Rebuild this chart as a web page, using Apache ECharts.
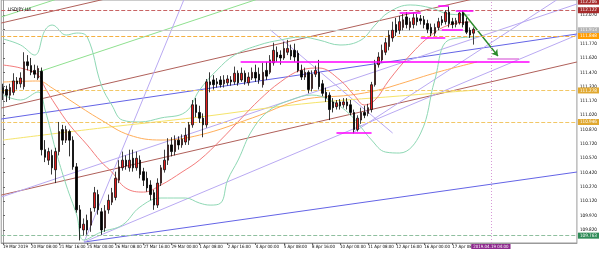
<!DOCTYPE html>
<html><head><meta charset="utf-8">
<script src="https://cdn.jsdelivr.net/npm/echarts@6/dist/echarts.min.js"></script>
<style>html,body{margin:0;padding:0;background:#fff}#c{width:600px;height:253px}</style>
</head><body><div id="c"></div>
<script>
// ---- data ----
const title = 'USDJPY,H4';
// [open, close, low, high]
const candles = [
[111.31,111.25,111.18,111.35],[111.29,111.23,111.16,111.33],[111.23,111.31,111.18,111.35],[111.26,111.38,111.23,111.46],
[111.38,111.35,111.29,111.42],[111.35,111.41,111.31,111.47],[111.32,111.58,111.29,111.68],[111.58,111.54,111.49,111.65],
[111.54,111.47,111.44,111.62],[111.49,111.45,111.41,111.55],[111.41,111.51,111.39,111.54],[111.48,110.66,110.60,111.52],
[110.66,110.58,110.53,110.76],[110.55,110.64,110.50,110.68],[110.60,110.47,110.40,110.66],[110.45,110.64,110.31,110.68],
[110.64,110.85,110.60,110.95],[110.87,110.76,110.71,110.92],[110.76,110.87,110.73,110.91],[110.85,110.76,110.59,110.87],
[110.76,110.48,110.45,110.80],[110.48,110.03,110.00,110.52],[110.03,109.84,109.71,110.08],[109.82,109.88,109.76,109.94],
[109.92,109.82,109.77,109.98],[109.87,110.01,109.80,110.05],[110.05,110.21,110.01,110.27],[110.19,110.03,109.98,110.24],
[110.01,109.82,109.77,110.05],[109.84,110.02,109.80,110.08],[110.03,110.13,109.99,110.19],[110.11,110.21,110.08,110.26],
[110.16,110.36,110.13,110.43],[110.34,110.48,110.31,110.55],[110.47,110.55,110.44,110.64],[110.55,110.49,110.45,110.60],
[110.47,110.55,110.43,110.66],[110.57,110.47,110.43,110.66],[110.47,110.57,110.44,110.64],[110.55,110.40,110.36,110.60],
[110.43,110.34,110.28,110.47],[110.36,110.26,110.22,110.43],[110.29,110.19,110.13,110.34],[110.21,110.08,110.03,110.24],
[110.08,110.31,110.05,110.36],[110.31,110.47,110.28,110.50],[110.45,110.55,110.42,110.66],[110.55,110.71,110.50,110.78],
[110.71,110.64,110.59,110.79],[110.64,110.76,110.60,110.81],[110.76,110.71,110.66,110.80],[110.71,110.77,110.68,110.82],
[110.74,110.81,110.71,110.89],[110.76,110.92,110.71,110.95],[110.92,111.13,110.89,111.18],[111.13,111.05,111.00,111.20],
[111.05,110.99,110.94,111.12],[110.99,110.92,110.79,111.04],[110.92,111.37,110.89,111.40],[111.37,111.34,111.26,111.47],
[111.39,111.34,111.29,111.44],[111.37,111.35,111.31,111.41],[111.39,111.34,111.31,111.43],[111.35,111.39,111.31,111.44],
[111.36,111.40,111.33,111.44],[111.39,111.37,111.33,111.43],[111.37,111.46,111.34,111.53],[111.46,111.36,111.33,111.49],
[111.39,111.46,111.37,111.52],[111.46,111.37,111.34,111.49],[111.36,111.42,111.33,111.47],[111.41,111.47,111.39,111.52],
[111.47,111.41,111.37,111.55],[111.45,111.39,111.35,111.52],[111.34,111.47,111.31,111.57],[111.49,111.43,111.39,111.58],
[111.47,111.60,111.45,111.65],[111.57,111.70,111.54,111.78],[111.68,111.63,111.58,111.74],[111.65,111.62,111.55,111.70],
[111.62,111.72,111.60,111.79],[111.68,111.72,111.65,111.81],[111.70,111.64,111.60,111.76],[111.70,111.63,111.58,111.77],
[111.67,111.49,111.47,111.70],[111.49,111.42,111.39,111.55],[111.42,111.47,111.39,111.52],[111.47,111.29,111.25,111.49],
[111.30,111.45,111.27,111.49],[111.45,111.49,111.42,111.54],[111.47,111.32,111.29,111.60],[111.35,111.25,111.22,111.39],
[111.26,111.20,111.16,111.31],[111.23,111.08,110.97,111.26],[111.16,111.10,111.05,111.20],[111.11,111.15,111.08,111.18],
[111.16,111.12,111.08,111.19],[111.13,111.16,111.10,111.20],[111.16,111.12,111.08,111.20],[111.13,111.05,111.02,111.18],
[111.05,110.87,110.83,111.08],[110.87,110.99,110.85,111.02],[110.97,111.05,110.93,111.10],[111.05,111.02,110.99,111.12],
[111.04,111.10,111.01,111.14],[111.08,111.34,111.05,111.37],[111.34,111.55,111.32,111.60],[111.55,111.63,111.52,111.68],
[111.60,111.70,111.57,111.76],[111.68,111.78,111.65,111.83],[111.74,111.86,111.70,111.91],[111.83,111.91,111.79,112.00],
[111.97,111.89,111.85,112.04],[111.91,112.00,111.87,112.06],[111.94,112.02,111.91,112.08],[112.05,111.97,111.93,112.10],
[111.94,112.00,111.91,112.04],[111.97,112.04,111.93,112.09],[112.04,112.00,111.96,112.08],[112.03,112.01,111.97,112.07],
[112.02,111.97,111.93,112.06],[111.98,111.92,111.88,112.02],[111.94,111.88,111.85,111.98],[111.88,111.94,111.85,111.98],
[111.94,112.00,111.91,112.04],[112.02,111.99,111.96,112.06],[112.00,112.10,111.97,112.12],[112.10,111.98,111.94,112.16],
[112.00,111.97,111.93,112.04],[111.97,112.01,111.94,112.04],[111.99,112.09,111.97,112.10],[112.09,111.97,111.94,112.12],
[112.00,111.89,111.87,112.04],[111.91,111.86,111.83,111.94],[111.88,111.92,111.76,111.94]
];
// indicator curves: [bar index, price]
const maRed = [[0,111.546],[5,111.515],[10,111.442],[12,111.306],[15,111.128],[19,110.918],[24,110.709],[28,110.531],[31,110.426],[35,110.258],[40,110.216],[45,110.290],[51,110.426],[56,110.552],[62,110.761],[68,110.992],[73,111.18],[79,111.368],[85,111.494],[90,111.515],[96,111.389],[100,111.232],[103,111.128],[106,111.18],[110,111.389],[116,111.651],[122,111.86],[127,111.965],[133,111.997]];
const maOrange = [[0,111.368],[10,111.379],[14,111.306],[19,111.18],[28,110.97],[36,110.813],[45,110.761],[56,110.813],[71,110.992],[85,111.18],[99,111.232],[107,111.285],[113,111.348],[124,111.473],[135,111.578]];
const maYellow = [[0,110.761],[28,110.887],[56,111.002],[85,111.138],[113,111.222],[135,111.285]];
const bbUpper = [[0,111.819],[5,111.756],[9,111.651],[12,111.913],[14,111.965],[18,111.86],[21,111.881],[24,111.84],[28,111.337],[31,111.128],[34,110.97],[39,110.95],[45,110.992],[52,111.054],[56,111.285],[61,111.494],[66,111.651],[73,111.756],[79,111.808],[85,111.84],[90,111.808],[96,111.756],[102,111.808],[106,111.965],[110,112.101],[116,112.175],[122,112.143],[127,112.08],[133,112.07]];
const bbLower = [[0,111.232],[5,111.18],[10,111.264],[12,111.075],[15,110.656],[18,110.29],[21,109.976],[23,109.714],[28,109.798],[34,109.871],[39,110.059],[45,110.154],[52,110.154],[56,110.101],[59,110.08],[62,110.101],[64,110.342],[67,110.552],[71,110.866],[76,111.075],[82,111.18],[88,111.232],[93,111.18],[99,111.023],[105,110.761],[109,110.635],[113,110.625],[119,110.834],[123,111.389],[127,111.808],[135,111.84]];
// trend lines: two anchor points [bar index, price]
const brownLines = [[[-0.5,111.986],[163.5,113.38]],[[-0.5,111.096],[163.5,112.489]],[[-0.5,110.185],[163.5,111.578]]];
const greenLines = [[[-0.5,112.049],[163.5,113.99]],[[10,111.473],[163.5,113.347]]];
const blueLines = [[[-0.5,110.981],[163.5,111.871]],[[23.1,109.693],[163.5,110.426]]];
const lavenderLines = [[[23.1,109.693],[163.5,111.86]],[[23.1,109.693],[51.5,112.227]],[[-0.5,110.164],[163.5,112.185]],[[76.2,111.913],[111,110.834]],[[100,110.845],[157.7,112.227]]];
const magentaSegs = [[[67.7,111.578],[150,111.578]],[[95,110.834],[105,110.834]],[[113,112.091],[119,112.091]],[[124,112.164],[127,112.164]],[[129,112.112],[134,112.112]],[[125,111.913],[131,111.913]],[[119,111.829],[126,111.829]]];
const targetSeg = [[138,111.609],[147,111.609]];
const arrow = [[131,112.101],[141,111.641]];
// horizontal levels
const levels = [
  {v:112.206, line:null, box:'#a52a2a'},
  {v:112.122, line:'#c86464', type:'dashed', box:'#a52a2a'},
  {v:111.913, line:'#c8c8c8', type:'solid', box:'#b4b4b4'},
  {v:111.848, line:'#f5b041', type:'dashed', box:'#ff9c00'},
  {v:111.278, line:'#f2c766', type:'dashed', box:'#e0a830'},
  {v:110.946, line:'#f2c766', type:'dashed', box:'#e0a830'},
  {v:109.763, line:'#8fbf9f', type:'dashed', box:'#2e8b57'}
];
const futureLine = {index:139, text:'2019.04.19 04:00'};
const priceTicks = [112.07,111.92,111.77,111.62,111.47,111.32,111.17,111.02,110.87,110.72,110.57,110.42,110.27,110.12,109.97,109.82];
const yMin = 109.683, yMax = 112.227;
const slots = 164;
const lastLabelled = 134;

// ---- categories: H4 bars, weekdays only ----
const mon = ['Jan','Feb','Mar','Apr','May'];
const categories = [];
let t = Date.UTC(2019,2,19,0);
while (categories.length < slots) {
  const d = new Date(t); const wd = d.getUTCDay();
  if (wd !== 0 && wd !== 6) categories.push(d.getUTCDate()+' '+mon[d.getUTCMonth()]+' '+String(d.getUTCHours()).padStart(2,'0')+':00');
  t += 4*3600e3;
}
categories[0] = '19 Mar 2019';
const showTick = (i) => i % 8 === 0 && i <= lastLabelled;

const FONT = '"Liberation Sans Narrow", "DejaVu Sans Condensed", "Liberation Sans", sans-serif';
const lineSeries = (data, color, w, extra) => Object.assign({type:'line', xAxisIndex:1, data, symbol:'none', silent:true, animation:false, lineStyle:{color, width:w}, z:3}, extra||{});
const series = [];
brownLines.forEach(l=>series.push(lineSeries(l,'#b0605a',1)));
greenLines.forEach(l=>series.push(lineSeries(l,'#8fe08f',1)));
blueLines.forEach(l=>series.push(lineSeries(l,'#6464e6',1)));
lavenderLines.forEach(l=>series.push(lineSeries(l,'#b9a9f2',1)));
series.push(lineSeries(maYellow,'#f5e46a',1,{smooth:0.4}));
series.push(lineSeries(maOrange,'#ffae5a',1,{smooth:0.4}));
series.push(lineSeries(bbUpper,'#8ed8b4',1,{smooth:0.4}));
series.push(lineSeries(bbLower,'#8ed8b4',1,{smooth:0.4}));
series.push(lineSeries(maRed,'#f47c7c',1,{smooth:0.4}));
magentaSegs.forEach(l=>series.push(lineSeries(l,'#ff00ff',1.6,{z:6})));
series.push(lineSeries(targetSeg,'#e080e0',1.4,{z:6}));
series.push(lineSeries([], '#2a8a2a', 1.4, {z:7, markLine:{silent:true,animation:false,symbol:['none','arrow'],symbolSize:6,lineStyle:{color:'#2a8a2a',width:1.4,type:'solid'},label:{show:false},data:[[{coord:arrow[0]},{coord:arrow[1]}]]}}));

series.push({
  type:'candlestick', xAxisIndex:0, data:candles, barWidth:2, animation:false, silent:true, z:5,
  itemStyle:{color:'#e51c1c', color0:'#000000', borderColor:'#111', borderColor0:'#000', borderWidth:0.8},
  markLine:{silent:true, animation:false, symbol:['none','none'],
    data: levels.map(L=>({yAxis:L.v,
      lineStyle:{color:L.line||'rgba(0,0,0,0)', type:L.type||'solid', width:1},
      label:{show:true, position:'end', distance:1, formatter:L.v.toFixed(3), color:'#fff', backgroundColor:L.box, fontSize:4.6, fontFamily:FONT, padding:[1,2,0,2]}
    })).concat([{xAxis:futureLine.index, lineStyle:{color:'#d79ad7', type:[1,2], width:1},
      label:{show:true, position:'start', distance:1, formatter:futureLine.text, color:'#fff', backgroundColor:'#8e2a8e', fontSize:4.4, fontFamily:FONT, padding:[1,2,0,2]}}])
  }
});

const chart = echarts.init(document.getElementById('c'), null, {renderer:'canvas'});
chart.setOption({
  animation:false,
  backgroundColor:'#ffffff',
  title:{text:title, left:3, top:2, textStyle:{fontSize:4.8, fontWeight:'normal', color:'#000', fontFamily:FONT}},
  grid:{left:0, top:0, right:23, height:243, show:true, borderColor:'#9a9a9a', borderWidth:1},
  xAxis:[
    {type:'category', data:categories, boundaryGap:true, axisLine:{lineStyle:{color:'#9a9a9a'}},
     axisTick:{show:true, interval:(i)=>showTick(i), length:2, alignWithLabel:true, lineStyle:{color:'#666'}},
     axisLabel:{interval:(i)=>showTick(i), showMinLabel:true, hideOverlap:false, fontSize:4.4, fontFamily:FONT, color:'#000', align:'left', margin:2}},
    {type:'value', min:-0.5, max:slots-0.5, show:false}
  ],
  yAxis:{type:'value', position:'right', min:yMin, max:yMax, scale:true,
    axisLine:{show:true, lineStyle:{color:'#9a9a9a'}}, splitLine:{show:false},
    axisTick:{show:true, length:2, lineStyle:{color:'#666'}, customValues:priceTicks},
    axisLabel:{fontSize:4.6, fontFamily:FONT, color:'#000', margin:3, customValues:priceTicks, formatter:v=>v.toFixed(3)}},
  series
});
</script></body></html>
